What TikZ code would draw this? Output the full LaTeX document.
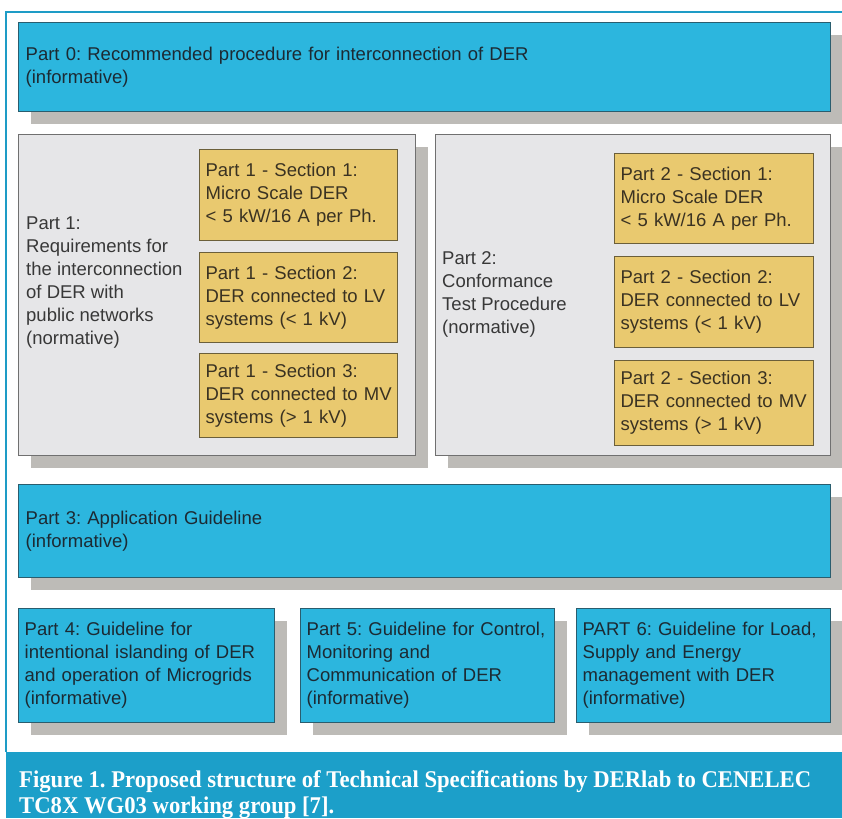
\documentclass[tikz,border=0pt]{standalone}
\usepackage{fontspec}
\setmainfont{Liberation Sans}
\newfontfamily\capfont{Liberation Serif}
\usepackage{graphicx}
\usetikzlibrary{shadows}
\definecolor{cyanbox}{HTML}{2CB6DE}
\definecolor{cyanedge}{HTML}{2A5D6E}
\definecolor{bluetext}{HTML}{1C2A33}
\definecolor{graybox}{HTML}{E6E6E8}
\definecolor{grayedge}{HTML}{707070}
\definecolor{graytext}{HTML}{383838}
\definecolor{shadowgray}{HTML}{BDBBB7}
\definecolor{secfill}{HTML}{E9C96F}
\definecolor{secedge}{HTML}{6B5F3A}
\definecolor{sectext}{HTML}{3A3222}
\definecolor{framecol}{HTML}{1E9CC6}
\definecolor{capbar}{HTML}{1C9FC9}
\newsavebox\capbox
\newdimen\capw
\frenchspacing
\begin{document}
\frenchspacing
\sbox\capbox{\capfont\bfseries\fontsize{24}{28}\selectfont Figure 1. Proposed structure of Technical Specifications by DERlab to CENELEC}%
\capw=\wd\capbox
\pgfmathsetmacro\capf{792/(\capw/1pt)}%
\begin{tikzpicture}[x=1pt,y=-1pt,
  basebox/.style={draw, line width=1.4pt, anchor=north west, inner xsep=7pt, inner ysep=0pt,
    align=left, font=\fontsize{18.5}{23}\selectfont\frenchspacing},
  shad/.style={drop shadow={shadow xshift=12pt, shadow yshift=-12pt, fill=shadowgray, opacity=1}},
  bluebox/.style={basebox, shad, fill=cyanbox, draw=cyanedge, text=bluetext},
  greybox/.style={basebox, shad, fill=graybox, draw=grayedge},
  secbox/.style={basebox, inner xsep=6pt, fill=secfill, draw=secedge, text=sectext, line width=1.2pt},
  lbl/.style={anchor=west, inner sep=0pt, align=left, text=graytext, font=\fontsize{18.5}{23}\selectfont\frenchspacing},
  capline/.style={anchor=base west, inner sep=0pt, text=white, font=\capfont\bfseries\fontsize{24}{28}\selectfont\frenchspacing}
]
\useasboundingbox (0,0) rectangle (842,818);
\fill[white] (0,0) rectangle (842,818);
% frame
\coordinate (ftr) at (842,12);
\coordinate (ftl) at (6,12);
\coordinate (fbl) at (6,752);
\draw[framecol, line width=1.2pt] (ftr) -- (ftl) -- (fbl);

% Part 0
\node[bluebox, minimum width=812pt, minimum height=89pt, text width=798pt] (p0) at (18,22)
  {Part 0: Recommended procedure for interconnection of DER\\(informative)};

% Part 1
\node[greybox, minimum width=397pt, minimum height=321pt] (p1) at (18,134) {};
\node[lbl] (p1t) at (26,283) {Part 1:\\Requirements for\\the interconnection\\of DER with\\public networks\\(normative)};
\node[secbox, minimum width=198pt, minimum height=91pt, text width=186pt] (s11) at (199,149)
  {Part 1 - Section 1:\\Micro Scale DER\\\mbox{< 5 kW/16 A per Ph.}};
\node[secbox, minimum width=198pt, minimum height=90pt, text width=186pt] (s12) at (199,252)
  {Part 1 - Section 2:\\\mbox{DER connected to LV}\\systems (< 1 kV)};
\node[secbox, minimum width=198pt, minimum height=84pt, text width=186pt] (s13) at (199,353)
  {Part 1 - Section 3:\\\mbox{DER connected to MV}\\systems (> 1 kV)};

% Part 2
\node[greybox, minimum width=395pt, minimum height=321pt] (p2) at (435,134) {};
\node[lbl] (p2t) at (442,294) {Part 2:\\Conformance\\Test Procedure\\(normative)};
\node[secbox, minimum width=199pt, minimum height=90pt, text width=187pt] (s21) at (614,153)
  {Part 2 - Section 1:\\Micro Scale DER\\\mbox{< 5 kW/16 A per Ph.}};
\node[secbox, minimum width=199pt, minimum height=91pt, text width=187pt] (s22) at (614,256)
  {Part 2 - Section 2:\\\mbox{DER connected to LV}\\systems (< 1 kV)};
\node[secbox, minimum width=199pt, minimum height=85pt, text width=187pt] (s23) at (614,360)
  {Part 2 - Section 3:\\\mbox{DER connected to MV}\\systems (> 1 kV)};

% Part 3
\node[bluebox, minimum width=812pt, minimum height=93pt, text width=798pt] (p3) at (18,484)
  {Part 3: Application Guideline\\(informative)};

% Parts 4-6
\node[bluebox, inner xsep=6pt, minimum width=256pt, minimum height=114pt, text width=244pt] (p4) at (18,608)
  {Part 4: Guideline for\\intentional islanding of DER\\and operation of Microgrids\\(informative)};
\node[bluebox, inner xsep=6pt, minimum width=254pt, minimum height=114pt, text width=242pt] (p5) at (300,608)
  {\mbox{Part 5: Guideline for Control,}\\Monitoring and\\Communication of DER\\(informative)};
\node[bluebox, inner xsep=6pt, minimum width=254pt, minimum height=114pt, text width=242pt] (p6) at (576,608)
  {\mbox{PART 6: Guideline for Load,}\\Supply and Energy\\management with DER\\(informative)};

% caption
\fill[capbar] (6,752) rectangle (842,818);
\node[capline] (cap1) at (19,787) {\scalebox{\capf}[1]{Figure 1. Proposed structure of Technical Specifications by DERlab to CENELEC}};
\node[capline] (cap2) at (19,813) {\scalebox{\capf}[1]{TC8X WG03 working group [7].}};
\end{tikzpicture}
\end{document}
